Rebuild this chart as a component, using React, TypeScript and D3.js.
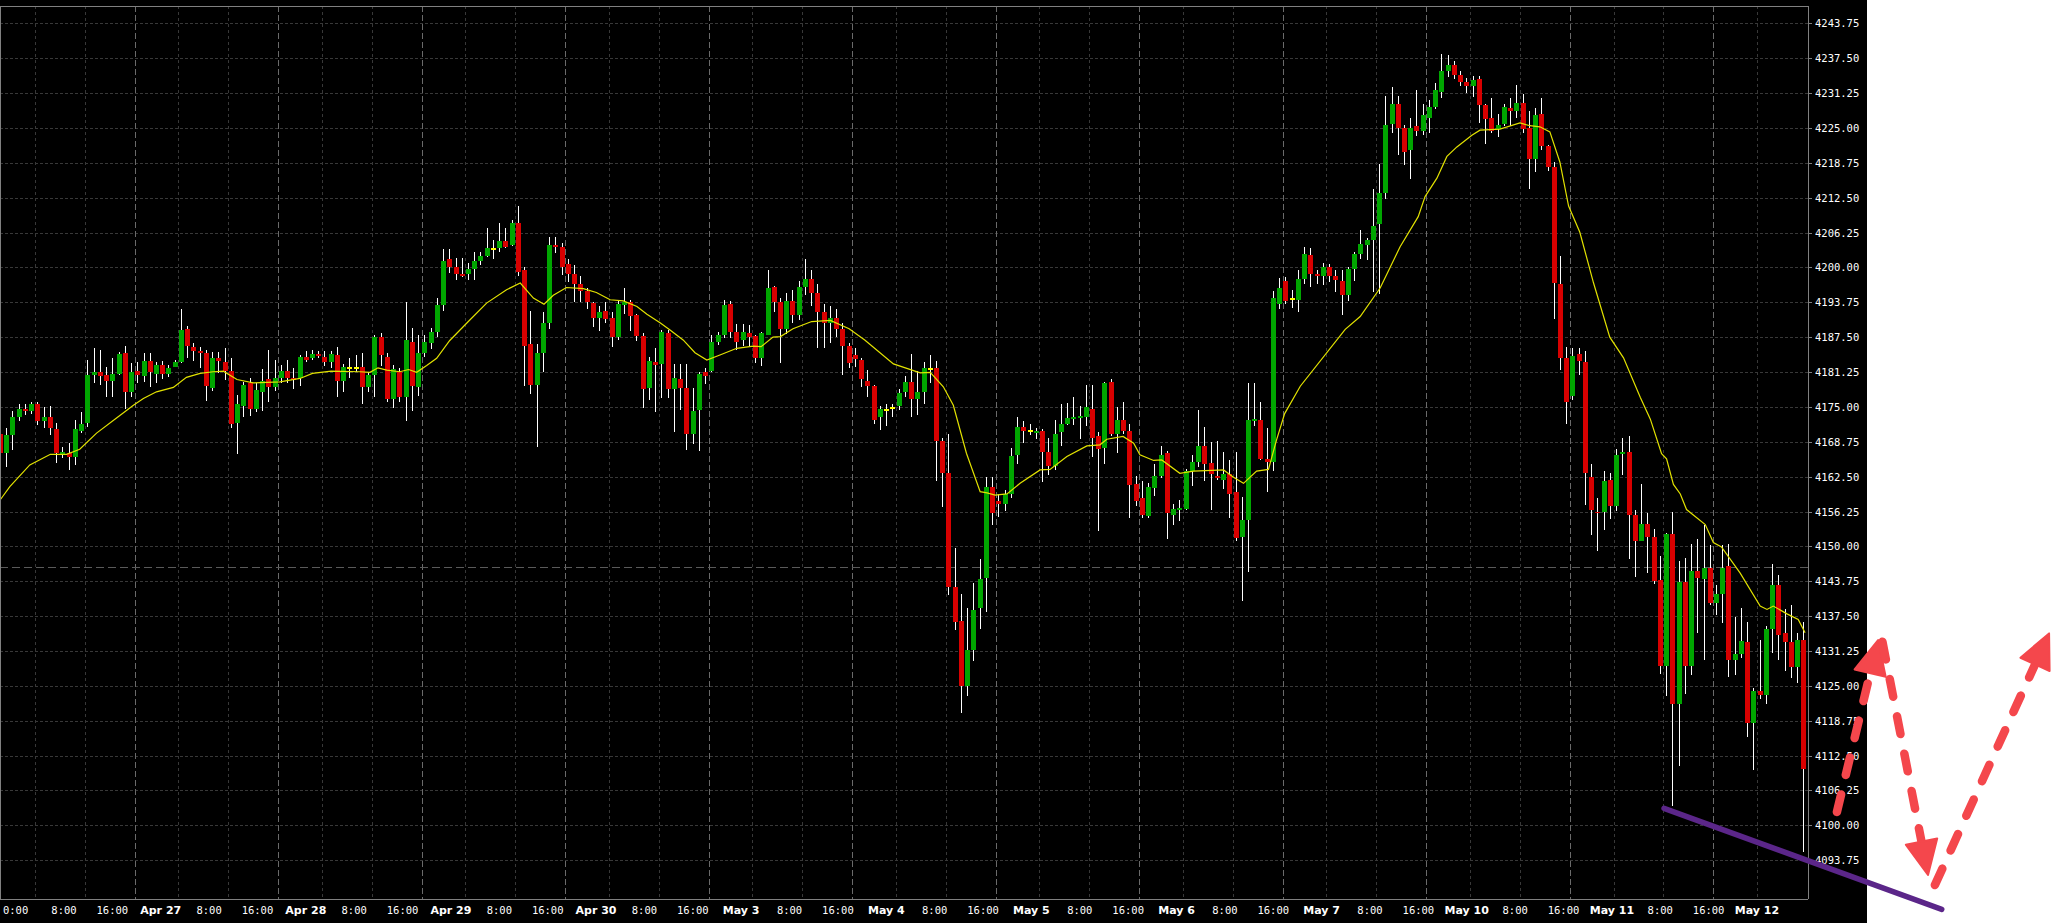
import * as d3 from "d3";
import { useEffect } from "react";

// hourly candles, index 0 is the first (cut) bar at the left edge
const opens = [
  4170.1, 4166.8, 4170.0, 4173.1, 4174.6, 4174.3, 4175.5, 4172.5, 4173.1, 4171.0,
  4166.6, 4166.7, 4166.1, 4170.7, 4172.2, 4180.7, 4181.2, 4180.7, 4179.6, 4180.9,
  4184.7, 4177.6, 4181.4, 4180.5, 4183.2, 4180.9, 4182.5, 4180.9, 4182.2, 4183.1,
  4188.9, 4185.7, 4185.0, 4184.7, 4178.4, 4183.8, 4183.1, 4181.4, 4172.1, 4175.2,
  4179.3, 4174.6, 4177.7, 4180.0, 4178.5, 4180.2, 4181.4, 4180.1, 4180.1, 4183.9,
  4183.8, 4184.5, 4183.9, 4183.1, 4184.3, 4179.6, 4182.0, 4182.0, 4182.2, 4178.5,
  4180.7, 4187.5, 4183.9, 4176.4, 4181.3, 4176.8, 4186.6, 4178.5, 4184.7, 4186.5,
  4188.4, 4193.3, 4201.5, 4200.1, 4198.8, 4198.8, 4199.7, 4201.2, 4202.1, 4203.3,
  4203.5, 4204.7, 4204.0, 4208.0, 4199.5, 4186.3, 4178.9, 4184.7, 4190.0, 4204.0,
  4203.7, 4200.7, 4198.9, 4197.1, 4195.8, 4193.6, 4190.9, 4192.2, 4190.9, 4187.5,
  4193.3, 4193.8, 4191.5, 4187.7, 4178.4, 4183.0, 4182.7, 4188.2, 4178.2, 4180.0,
  4178.4, 4170.1, 4174.4, 4181.3, 4181.4, 4186.6, 4187.9, 4193.4, 4188.4, 4187.0,
  4188.2, 4187.7, 4183.8, 4187.9, 4196.5, 4193.8, 4189.0, 4194.0, 4191.5, 4196.5,
  4198.0, 4195.5, 4192.0, 4190.0, 4191.0, 4189.0, 4186.0, 4184.3, 4183.4, 4179.6,
  4178.7, 4173.1, 4174.4, 4174.8, 4175.2, 4177.7, 4179.5, 4176.4, 4177.7, 4181.8,
  4182.0, 4168.9, 4163.2, 4142.7, 4136.6, 4125.0, 4131.4, 4139.0, 4144.3, 4160.6,
  4158.1, 4157.6, 4159.4, 4166.4, 4171.4, 4170.6, 4170.3, 4170.7, 4166.9, 4164.4,
  4170.5, 4171.9, 4172.8, 4173.0, 4173.2, 4174.6, 4169.8, 4167.6, 4179.5, 4170.1,
  4172.6, 4170.7, 4161.2, 4158.7, 4155.4, 4160.5, 4162.6, 4166.7, 4155.6, 4156.5,
  4156.7, 4163.5, 4165.1, 4168.0, 4164.9, 4162.6, 4161.9, 4163.0, 4159.7, 4151.7,
  4154.7, 4172.6, 4172.6, 4165.7, 4165.1, 4193.4, 4197.6, 4194.3, 4194.2, 4197.9,
  4202.2, 4198.8, 4198.5, 4200.1, 4198.5, 4197.6, 4195.1, 4199.7, 4202.4, 4204.0,
  4204.9, 4207.8, 4213.3, 4225.7, 4229.3, 4225.0, 4221.0, 4225.4, 4224.5, 4226.8,
  4228.8, 4231.4, 4235.2, 4236.3, 4234.5, 4233.2, 4232.5, 4233.8, 4229.1, 4226.8,
  4224.8, 4225.7, 4228.6, 4228.0, 4229.5, 4225.0, 4219.4, 4227.5, 4221.8, 4218.0,
  4197.0, 4183.8, 4176.9, 4184.4, 4183.0, 4162.5, 4156.2, 4156.1, 4161.9, 4157.2,
  4166.6, 4166.9, 4155.7, 4150.9, 4154.0, 4151.7, 4144.0, 4128.6, 4152.3, 4121.7,
  4143.6, 4128.5, 4145.6, 4144.2, 4146.1, 4139.9, 4141.5, 4146.4, 4129.6, 4130.7,
  4132.9, 4118.4, 4124.0, 4123.3, 4135.2, 4143.0, 4134.5, 4132.8, 4128.4, 4133.2,
];
const highs = [
  4170.9, 4171.3, 4174.3, 4175.6, 4175.6, 4175.9, 4175.9, 4175.0, 4175.1, 4172.2,
  4167.9, 4168.5, 4172.7, 4174.0, 4183.4, 4185.5, 4185.2, 4182.2, 4183.7, 4184.9,
  4185.9, 4182.8, 4183.1, 4184.7, 4184.6, 4183.1, 4183.2, 4182.5, 4183.4, 4192.5,
  4189.5, 4186.5, 4185.8, 4185.2, 4184.9, 4184.9, 4185.5, 4183.7, 4177.1, 4179.5,
  4180.1, 4179.2, 4181.8, 4185.2, 4183.4, 4182.5, 4183.4, 4181.9, 4184.3, 4185.0,
  4185.2, 4185.0, 4185.0, 4185.1, 4185.8, 4182.7, 4183.8, 4184.3, 4184.7, 4181.3,
  4187.8, 4188.3, 4184.6, 4182.5, 4181.9, 4193.8, 4189.1, 4187.9, 4187.9, 4189.1,
  4194.5, 4203.3, 4203.3, 4201.7, 4201.7, 4200.8, 4202.8, 4202.8, 4207.1, 4204.9,
  4207.9, 4207.1, 4208.5, 4211.0, 4200.1, 4192.2, 4186.3, 4192.0, 4205.5, 4205.5,
  4204.3, 4201.5, 4200.4, 4198.5, 4196.4, 4193.8, 4193.1, 4193.8, 4192.0, 4194.0,
  4196.3, 4194.2, 4191.7, 4188.2, 4184.0, 4185.6, 4188.8, 4188.8, 4182.7, 4182.7,
  4182.7, 4178.4, 4181.3, 4182.0, 4187.9, 4188.4, 4194.2, 4194.0, 4189.9, 4189.9,
  4189.7, 4187.9, 4188.4, 4199.5, 4196.6, 4194.5, 4195.5, 4196.0, 4197.5, 4201.5,
  4199.5, 4197.0, 4193.5, 4193.0, 4192.5, 4190.0, 4186.5, 4185.5, 4183.7, 4181.7,
  4178.9, 4175.2, 4175.6, 4175.6, 4178.2, 4180.5, 4184.5, 4181.4, 4183.0, 4184.3,
  4183.3, 4169.4, 4170.1, 4149.7, 4141.5, 4138.9, 4143.4, 4147.7, 4162.4, 4162.5,
  4159.4, 4160.1, 4167.6, 4173.2, 4172.5, 4171.9, 4171.2, 4171.0, 4169.4, 4172.6,
  4175.5, 4175.7, 4176.8, 4175.2, 4178.9, 4178.9, 4170.5, 4179.5, 4180.0, 4175.0,
  4175.9, 4171.9, 4162.6, 4161.7, 4161.4, 4164.8, 4168.0, 4167.1, 4157.6, 4158.3,
  4163.9, 4166.4, 4174.4, 4171.4, 4168.7, 4168.9, 4166.9, 4165.5, 4166.9, 4158.8,
  4179.3, 4179.3, 4175.9, 4171.2, 4195.8, 4198.1, 4198.3, 4196.0, 4199.5, 4203.7,
  4203.5, 4199.5, 4200.8, 4200.6, 4199.5, 4199.5, 4200.1, 4202.8, 4206.7, 4205.3,
  4214.1, 4218.5, 4230.7, 4232.3, 4230.7, 4225.5, 4226.8, 4231.8, 4229.3, 4230.0,
  4233.1, 4238.3, 4238.1, 4237.0, 4235.2, 4234.0, 4234.3, 4234.3, 4229.3, 4230.4,
  4227.5, 4229.3, 4230.4, 4232.7, 4231.1, 4228.0, 4228.6, 4230.4, 4221.9, 4218.9,
  4202.0, 4185.8, 4185.6, 4185.6, 4185.0, 4164.7, 4158.7, 4163.5, 4163.2, 4167.4,
  4169.5, 4169.8, 4156.6, 4161.2, 4156.0, 4153.1, 4148.3, 4152.4, 4156.2, 4147.3,
  4147.9, 4150.5, 4151.3, 4153.9, 4150.3, 4143.0, 4150.3, 4150.5, 4137.3, 4139.0,
  4136.5, 4124.7, 4133.2, 4135.7, 4146.9, 4144.8, 4138.7, 4139.5, 4134.4, 4136.5,
];
const lows = [
  4166.1, 4164.3, 4167.3, 4172.5, 4173.5, 4173.8, 4171.7, 4171.2, 4170.0, 4165.0,
  4165.8, 4163.6, 4164.6, 4170.3, 4171.4, 4179.3, 4178.9, 4176.7, 4176.7, 4180.7,
  4174.7, 4176.8, 4179.3, 4179.5, 4178.6, 4179.3, 4180.0, 4180.4, 4182.1, 4182.9,
  4183.7, 4183.2, 4181.9, 4176.1, 4177.9, 4181.0, 4179.8, 4171.2, 4166.6, 4173.1,
  4173.3, 4174.1, 4174.3, 4175.8, 4177.9, 4179.2, 4179.2, 4178.2, 4178.8, 4183.1,
  4183.4, 4183.7, 4182.3, 4182.0, 4176.7, 4177.6, 4180.1, 4181.3, 4175.6, 4177.6,
  4176.7, 4182.4, 4175.8, 4174.8, 4175.8, 4172.5, 4174.2, 4177.0, 4184.0, 4185.4,
  4187.5, 4192.1, 4199.0, 4197.8, 4198.2, 4197.8, 4197.8, 4200.4, 4201.9, 4201.5,
  4202.8, 4203.4, 4203.9, 4198.4, 4178.7, 4177.3, 4167.9, 4181.3, 4189.0, 4202.5,
  4198.6, 4197.4, 4193.8, 4193.8, 4192.5, 4189.3, 4188.6, 4190.0, 4185.7, 4187.0,
  4191.7, 4188.6, 4186.8, 4174.8, 4176.2, 4174.1, 4176.6, 4176.6, 4170.5, 4174.4,
  4167.3, 4168.3, 4167.1, 4179.1, 4181.3, 4186.1, 4187.3, 4187.3, 4185.2, 4185.9,
  4185.9, 4182.9, 4182.3, 4187.9, 4192.0, 4182.9, 4188.0, 4190.0, 4190.5, 4195.0,
  4193.0, 4185.5, 4185.5, 4186.5, 4187.5, 4180.8, 4181.9, 4182.2, 4178.6, 4176.8,
  4171.9, 4170.9, 4171.6, 4173.1, 4174.4, 4176.8, 4173.1, 4173.6, 4175.5, 4179.2,
  4161.7, 4157.1, 4141.3, 4135.0, 4120.2, 4123.2, 4129.5, 4135.2, 4138.2, 4153.8,
  4155.3, 4156.3, 4158.7, 4164.8, 4168.5, 4170.0, 4169.3, 4161.6, 4162.8, 4163.7,
  4168.0, 4171.8, 4171.8, 4169.2, 4171.6, 4166.0, 4152.8, 4164.8, 4169.7, 4166.7,
  4170.1, 4155.1, 4157.2, 4155.1, 4155.1, 4159.0, 4162.3, 4151.3, 4153.8, 4154.5,
  4156.5, 4160.8, 4164.2, 4161.7, 4156.5, 4161.9, 4160.3, 4155.1, 4151.0, 4140.2,
  4145.4, 4171.5, 4165.5, 4159.7, 4163.5, 4192.5, 4193.4, 4192.7, 4192.0, 4197.1,
  4196.5, 4197.0, 4196.9, 4197.4, 4195.6, 4191.5, 4194.0, 4197.6, 4201.5, 4201.3,
  4195.6, 4195.2, 4212.3, 4224.1, 4220.2, 4218.4, 4215.9, 4223.6, 4223.7, 4224.1,
  4228.4, 4230.4, 4234.1, 4233.8, 4232.5, 4231.3, 4230.6, 4225.9, 4222.1, 4224.1,
  4223.4, 4225.4, 4225.4, 4226.8, 4224.1, 4214.1, 4217.1, 4221.0, 4217.3, 4190.8,
  4181.6, 4172.0, 4176.3, 4180.7, 4157.4, 4152.1, 4149.1, 4152.9, 4154.9, 4156.4,
  4162.8, 4147.8, 4144.5, 4150.9, 4145.2, 4143.2, 4127.2, 4123.1, 4103.4, 4110.7,
  4123.6, 4126.9, 4134.4, 4129.6, 4139.5, 4137.7, 4136.3, 4126.5, 4127.0, 4130.0,
  4115.8, 4109.9, 4122.7, 4121.8, 4130.8, 4129.6, 4127.6, 4126.4, 4125.6, 4095.3,
];
const closes = [
  4166.8, 4169.9, 4173.1, 4174.6, 4174.3, 4175.5, 4172.5, 4173.1, 4171.3, 4166.8,
  4166.9, 4166.1, 4171.0, 4171.9, 4180.7, 4181.2, 4180.5, 4179.6, 4180.9, 4184.5,
  4177.6, 4181.2, 4180.7, 4183.2, 4181.2, 4182.5, 4180.9, 4182.0, 4183.1, 4188.8,
  4186.0, 4185.0, 4184.7, 4178.7, 4183.8, 4183.2, 4181.4, 4172.0, 4175.5, 4178.9,
  4174.6, 4178.0, 4179.6, 4178.5, 4180.1, 4181.4, 4180.2, 4179.8, 4183.9, 4183.4,
  4184.5, 4184.2, 4183.1, 4184.5, 4179.6, 4182.2, 4182.0, 4182.0, 4178.5, 4180.7,
  4187.5, 4184.3, 4176.4, 4181.8, 4176.8, 4187.0, 4178.8, 4184.7, 4186.6, 4188.4,
  4193.3, 4201.2, 4200.1, 4198.8, 4198.5, 4199.7, 4201.2, 4202.1, 4203.5, 4203.3,
  4204.7, 4203.7, 4208.0, 4199.2, 4186.0, 4178.9, 4184.7, 4190.0, 4204.0, 4203.7,
  4200.0, 4198.9, 4197.1, 4195.8, 4193.8, 4190.9, 4192.0, 4190.8, 4187.5, 4193.4,
  4193.8, 4191.3, 4187.7, 4178.2, 4183.2, 4182.5, 4188.4, 4178.2, 4180.2, 4178.4,
  4170.1, 4174.3, 4180.9, 4180.5, 4186.6, 4187.9, 4193.3, 4188.4, 4186.6, 4188.4,
  4187.5, 4183.8, 4188.2, 4196.3, 4193.8, 4189.0, 4194.0, 4191.5, 4196.5, 4198.0,
  4195.5, 4192.0, 4190.0, 4191.0, 4189.0, 4186.0, 4182.8, 4183.5, 4180.0, 4178.8,
  4172.7, 4174.6, 4174.4, 4174.8, 4177.5, 4179.5, 4176.4, 4177.7, 4182.0, 4181.8,
  4168.9, 4163.2, 4142.7, 4136.5, 4125.0, 4131.4, 4138.6, 4144.2, 4160.6, 4156.0,
  4157.6, 4159.4, 4166.2, 4171.4, 4170.7, 4170.6, 4170.7, 4166.9, 4164.4, 4170.1,
  4171.9, 4173.0, 4173.2, 4173.4, 4175.0, 4169.4, 4167.5, 4179.3, 4170.1, 4172.6,
  4170.7, 4161.0, 4158.1, 4155.6, 4160.6, 4162.6, 4166.4, 4156.0, 4156.7, 4156.9,
  4163.5, 4165.1, 4168.0, 4164.8, 4163.0, 4162.3, 4163.0, 4159.4, 4151.5, 4154.7,
  4172.6, 4172.8, 4165.7, 4165.1, 4194.5, 4196.3, 4194.0, 4194.3, 4197.9, 4202.4,
  4198.8, 4198.5, 4200.1, 4198.5, 4197.7, 4195.1, 4199.7, 4202.4, 4204.2, 4204.9,
  4207.4, 4213.3, 4225.5, 4229.3, 4225.0, 4220.7, 4225.0, 4224.5, 4227.3, 4228.8,
  4231.8, 4235.2, 4236.3, 4234.5, 4233.2, 4232.5, 4233.6, 4229.1, 4226.6, 4224.5,
  4225.5, 4228.8, 4228.0, 4229.5, 4224.8, 4219.4, 4227.3, 4221.8, 4218.0, 4197.2,
  4183.8, 4175.9, 4184.2, 4183.2, 4163.2, 4156.6, 4155.9, 4161.7, 4157.2, 4166.3,
  4166.9, 4155.7, 4150.9, 4154.0, 4151.7, 4143.8, 4128.6, 4152.3, 4121.7, 4143.6,
  4128.6, 4145.6, 4144.4, 4146.1, 4139.9, 4141.5, 4146.2, 4129.6, 4130.7, 4133.1,
  4118.4, 4124.0, 4123.3, 4135.2, 4143.0, 4134.1, 4132.8, 4128.4, 4133.3, 4110.1,
];

// yellow moving average (candle index, price)
const maIndex = [
  0, 1.5, 4.7, 8, 10.6, 12.7, 15.4, 18.6, 21.3, 22.9, 25, 27.7, 29.8, 32, 34.1, 35.7, 37.9, 40.5,
  44.8, 48, 50, 53, 57.6, 59.2, 60.5, 61.9, 64, 65.4, 66.7, 68.3, 69.9, 72, 74.7, 77.9, 81.1, 83.3,
  85.4, 87.1, 88.6, 90.7, 93.4, 95.5, 97.7, 99.8, 102, 103.6, 105.7, 107.3, 109.4, 111.3, 113.2,
  115.3, 118, 120.6, 121.9, 123.8, 125, 127, 130, 133, 136, 138.5, 143.1, 147.4, 149, 151.1, 152.7,
  154.8, 157, 158.1, 159.4, 161.3, 163.4, 166.6, 168.2, 170.9, 174.1, 176.2, 177.3, 179.9, 181.6,
  182.6, 184.8, 186.1, 189, 191.2, 196, 197.6, 199.2, 201.3, 203.2, 204.5, 205.8, 208.3, 215.5,
  217.9, 221.1, 224.3, 227.2, 228.3, 230.2, 231.8, 233.4, 235.8, 237.1, 240.3, 243.5, 245.1, 246.7,
  248.3, 249.9, 251.3, 253.1, 255.3, 257.9, 260.1, 262.8, 264.4, 266.2, 267, 268.1, 269.2, 270.2,
  273.2, 274.5, 275.8, 278.8, 282, 283.1, 284.1, 286.3, 288.1, 289.2,
];
const maValue = [
  4158.4, 4160.7, 4164.6, 4166.5, 4166.5, 4167.4, 4170.3, 4173.0, 4175.3, 4176.5, 4177.7, 4178.5,
  4180.3, 4181.0, 4181.3, 4181.4, 4179.9, 4179.3, 4179.5, 4180.1, 4181.0, 4181.4, 4181.3, 4181.2,
  4182.0, 4181.6, 4181.3, 4181.7, 4181.2, 4182.4, 4183.7, 4186.9, 4190.0, 4193.6, 4196.0, 4197.2,
  4194.5, 4193.4, 4195.0, 4196.4, 4196.2, 4195.5, 4194.2, 4194.0, 4193.0, 4191.6, 4190.1, 4188.8,
  4187.0, 4184.7, 4183.4, 4184.3, 4185.5, 4185.9, 4185.8, 4187.5, 4187.6, 4189.0, 4190.3, 4190.5,
  4189.0, 4187.0, 4182.7, 4181.1, 4181.2, 4178.6, 4175.3, 4166.7, 4159.8, 4159.6, 4159.2, 4159.4,
  4161.3, 4163.7, 4163.8, 4166.1, 4168.0, 4168.2, 4169.2, 4169.7, 4168.5, 4166.4, 4165.4, 4165.5,
  4163.1, 4163.5, 4163.7, 4162.4, 4161.3, 4163.5, 4163.8, 4169.1, 4173.8, 4178.7, 4188.9, 4191.2,
  4196.3, 4203.7, 4209.1, 4212.7, 4216.0, 4219.9, 4221.6, 4223.7, 4224.6, 4224.8, 4225.9, 4225.4,
  4225.2, 4224.3, 4218.9, 4211.0, 4206.3, 4197.2, 4187.5, 4183.8, 4176.7, 4172.8, 4166.6, 4165.7,
  4161.1, 4159.4, 4156.6, 4153.9, 4150.7, 4149.9, 4145.2, 4139.3, 4138.7, 4139.3, 4137.9, 4136.9,
  4134.5,
];

// first candle of each trading session and the label printed at its midnight
const sessionStart = [-1, 22, 45, 68, 91, 114, 137, 160, 183, 206, 229, 252, 275];
const sessionLabel = [
  "0:00", "Apr 27", "Apr 28", "Apr 29", "Apr 30", "May 3", "May 4",
  "May 5", "May 6", "May 7", "May 10", "May 11", "May 12",
];
const hourLabels = ["8:00", "16:00"];

const priceTicks = d3.range(4093.75, 4243.76, 6.25);
const markerPrice = 4146.25;

// hand drawn marks, in candle index / price
const supportLine = [[266.6, 4103.05], [311.1, 4084.95]];
const arrowFrom = [[294.3, 4102.4], [301.6, 4132.9], [310.0, 4089.3]];
const arrowTo = [[300.9, 4133.2], [308.9, 4091.1], [328.3, 4134.4]];

export default function App() {
  useEffect(() => {
    document.body.style.margin = "0";
  }, []);

  const width = 2051;
  const height = 923;
  const panelW = 1867;
  const plotR = 1808;
  const plotT = 6;
  const plotB = 899;

  const x = d3.scaleLinear([0, 289], [0.48, 0.48 + 6.24 * 289]);
  const y = d3.scaleLinear([4093.75, 4243.75], [860.2, 23.33]);
  const labelX = d3.scaleLinear([0, 36], [15.6, 1757]);

  const grid = sessionStart
    .flatMap((s) => [
      { i: s + 6.5, strong: false },
      { i: s + 14.5, strong: false },
      { i: s + 22.5, strong: true },
    ])
    .filter((g) => x(g.i) > 1 && x(g.i) < plotR - 3);

  const xLabels = sessionStart
    .flatMap((s, k) => [
      { k: 3 * k, text: sessionLabel[k], bold: k > 0 },
      { k: 3 * k + 1, text: hourLabels[0], bold: false },
      { k: 3 * k + 2, text: hourLabels[1], bold: false },
    ])
    .filter((l) => l.k <= 36);

  const ma = d3.line<number>((d) => x(d), (_, i) => y(maValue[i]));

  const red = "#f4474c";

  return (
    <div style={{ position: "fixed", left: 0, top: 0, width, height, background: "#fff" }}>
      <svg width={width} height={height} style={{ display: "block" }}>
        <defs>
          <clipPath id="plot">
            <rect x={0} y={plotT} width={plotR} height={plotB - plotT} />
          </clipPath>
        </defs>
        <rect x={0} y={0} width={panelW} height={height} fill="#000" />

        <g clipPath="url(#plot)" shapeRendering="crispEdges">
          {priceTicks.map((t) => (
            <line key={t} x1={0} x2={plotR} y1={Math.round(y(t)) + 0.5} y2={Math.round(y(t)) + 0.5}
              stroke="#383838" strokeDasharray="3 2" />
          ))}
          {grid.map((g) => (
            <line key={g.i} x1={Math.round(x(g.i)) + 0.5} x2={Math.round(x(g.i)) + 0.5} y1={plotT} y2={plotB}
              stroke={g.strong ? "#6a6a6a" : "#383838"} strokeDasharray={g.strong ? "6 3" : "3 3"} />
          ))}
          <line x1={0} x2={plotR} y1={Math.round(y(markerPrice)) + 0.5} y2={Math.round(y(markerPrice)) + 0.5}
            stroke="#5a5a5a" strokeDasharray="8 4" />

          {opens.map((o, i) => {
            const c = closes[i];
            const cx = Math.floor(x(i));
            const top = y(Math.max(o, c));
            const h = Math.abs(y(o) - y(c));
            const doji = o === c;
            const fill = doji ? "#ffff00" : c > o ? "#00a600" : "#d80000";
            return (
              <g key={i}>
                <line x1={cx + 0.5} x2={cx + 0.5} y1={y(highs[i])} y2={y(lows[i])} stroke="#fff" />
                <rect x={cx - 2} width={5} y={doji ? top - 1 : top} height={doji ? 2 : Math.max(h, 1.5)} fill={fill} />
              </g>
            );
          })}
        </g>

        <g clipPath="url(#plot)">
          <path d={ma(maIndex) ?? ""} fill="none" stroke="#e2e200" strokeWidth={1.2} />
        </g>

        <g shapeRendering="crispEdges" stroke="#808080">
          <line x1={0} x2={plotR} y1={plotT + 0.5} y2={plotT + 0.5} />
          <line x1={0} x2={plotR} y1={plotB + 0.5} y2={plotB + 0.5} />
          <line x1={plotR + 0.5} x2={plotR + 0.5} y1={plotT} y2={plotB} />
          <line x1={0.5} x2={0.5} y1={plotT} y2={plotB} />
          {priceTicks.map((t) => (
            <line key={t} x1={plotR} x2={plotR + 4} y1={Math.round(y(t)) + 0.5} y2={Math.round(y(t)) + 0.5} />
          ))}
        </g>

        <g fill="#fff" fontFamily="'DejaVu Sans Mono', monospace" fontSize={10.5}>
          {priceTicks.map((t) => (
            <text key={t} x={1815} y={y(t) + 4}>{t.toFixed(2)}</text>
          ))}
        </g>
        <g fill="#fff" textAnchor="middle">
          {xLabels.map((l) => (
            <text key={l.k} x={labelX(l.k)} y={913.5}
              fontFamily={l.bold ? "'DejaVu Sans', sans-serif" : "'DejaVu Sans Mono', monospace"}
              fontWeight={l.bold ? "bold" : "normal"} fontSize={l.bold ? 11 : 10.5}>
              {l.text}
            </text>
          ))}
        </g>

        <line x1={x(supportLine[0][0])} y1={y(supportLine[0][1])} x2={x(supportLine[1][0])} y2={y(supportLine[1][1])}
          stroke="#5b2689" strokeWidth={5.5} strokeLinecap="round" />

        {arrowFrom.map((f, k) => {
          const p0 = [x(f[0]), y(f[1])];
          const p1 = [x(arrowTo[k][0]), y(arrowTo[k][1])];
          const len = Math.hypot(p1[0] - p0[0], p1[1] - p0[1]);
          const u = [(p1[0] - p0[0]) / len, (p1[1] - p0[1]) / len];
          const n = [-u[1], u[0]];
          const base = [p1[0] - u[0] * 34, p1[1] - u[1] * 34];
          const head = [
            p1,
            [base[0] + n[0] * 16, base[1] + n[1] * 16],
            [base[0] - n[0] * 16, base[1] - n[1] * 16],
          ];
          return (
            <g key={k}>
              <line x1={p0[0]} y1={p0[1]} x2={base[0] + u[0] * 3} y2={base[1] + u[1] * 3}
                stroke={red} strokeWidth={8.5} strokeLinecap="round" strokeDasharray="18 20" />
              <polygon points={head.map((p) => p.join(",")).join(" ")} fill={red}
                stroke={red} strokeWidth={2} strokeLinejoin="round" />
            </g>
          );
        })}
      </svg>
    </div>
  );
}
